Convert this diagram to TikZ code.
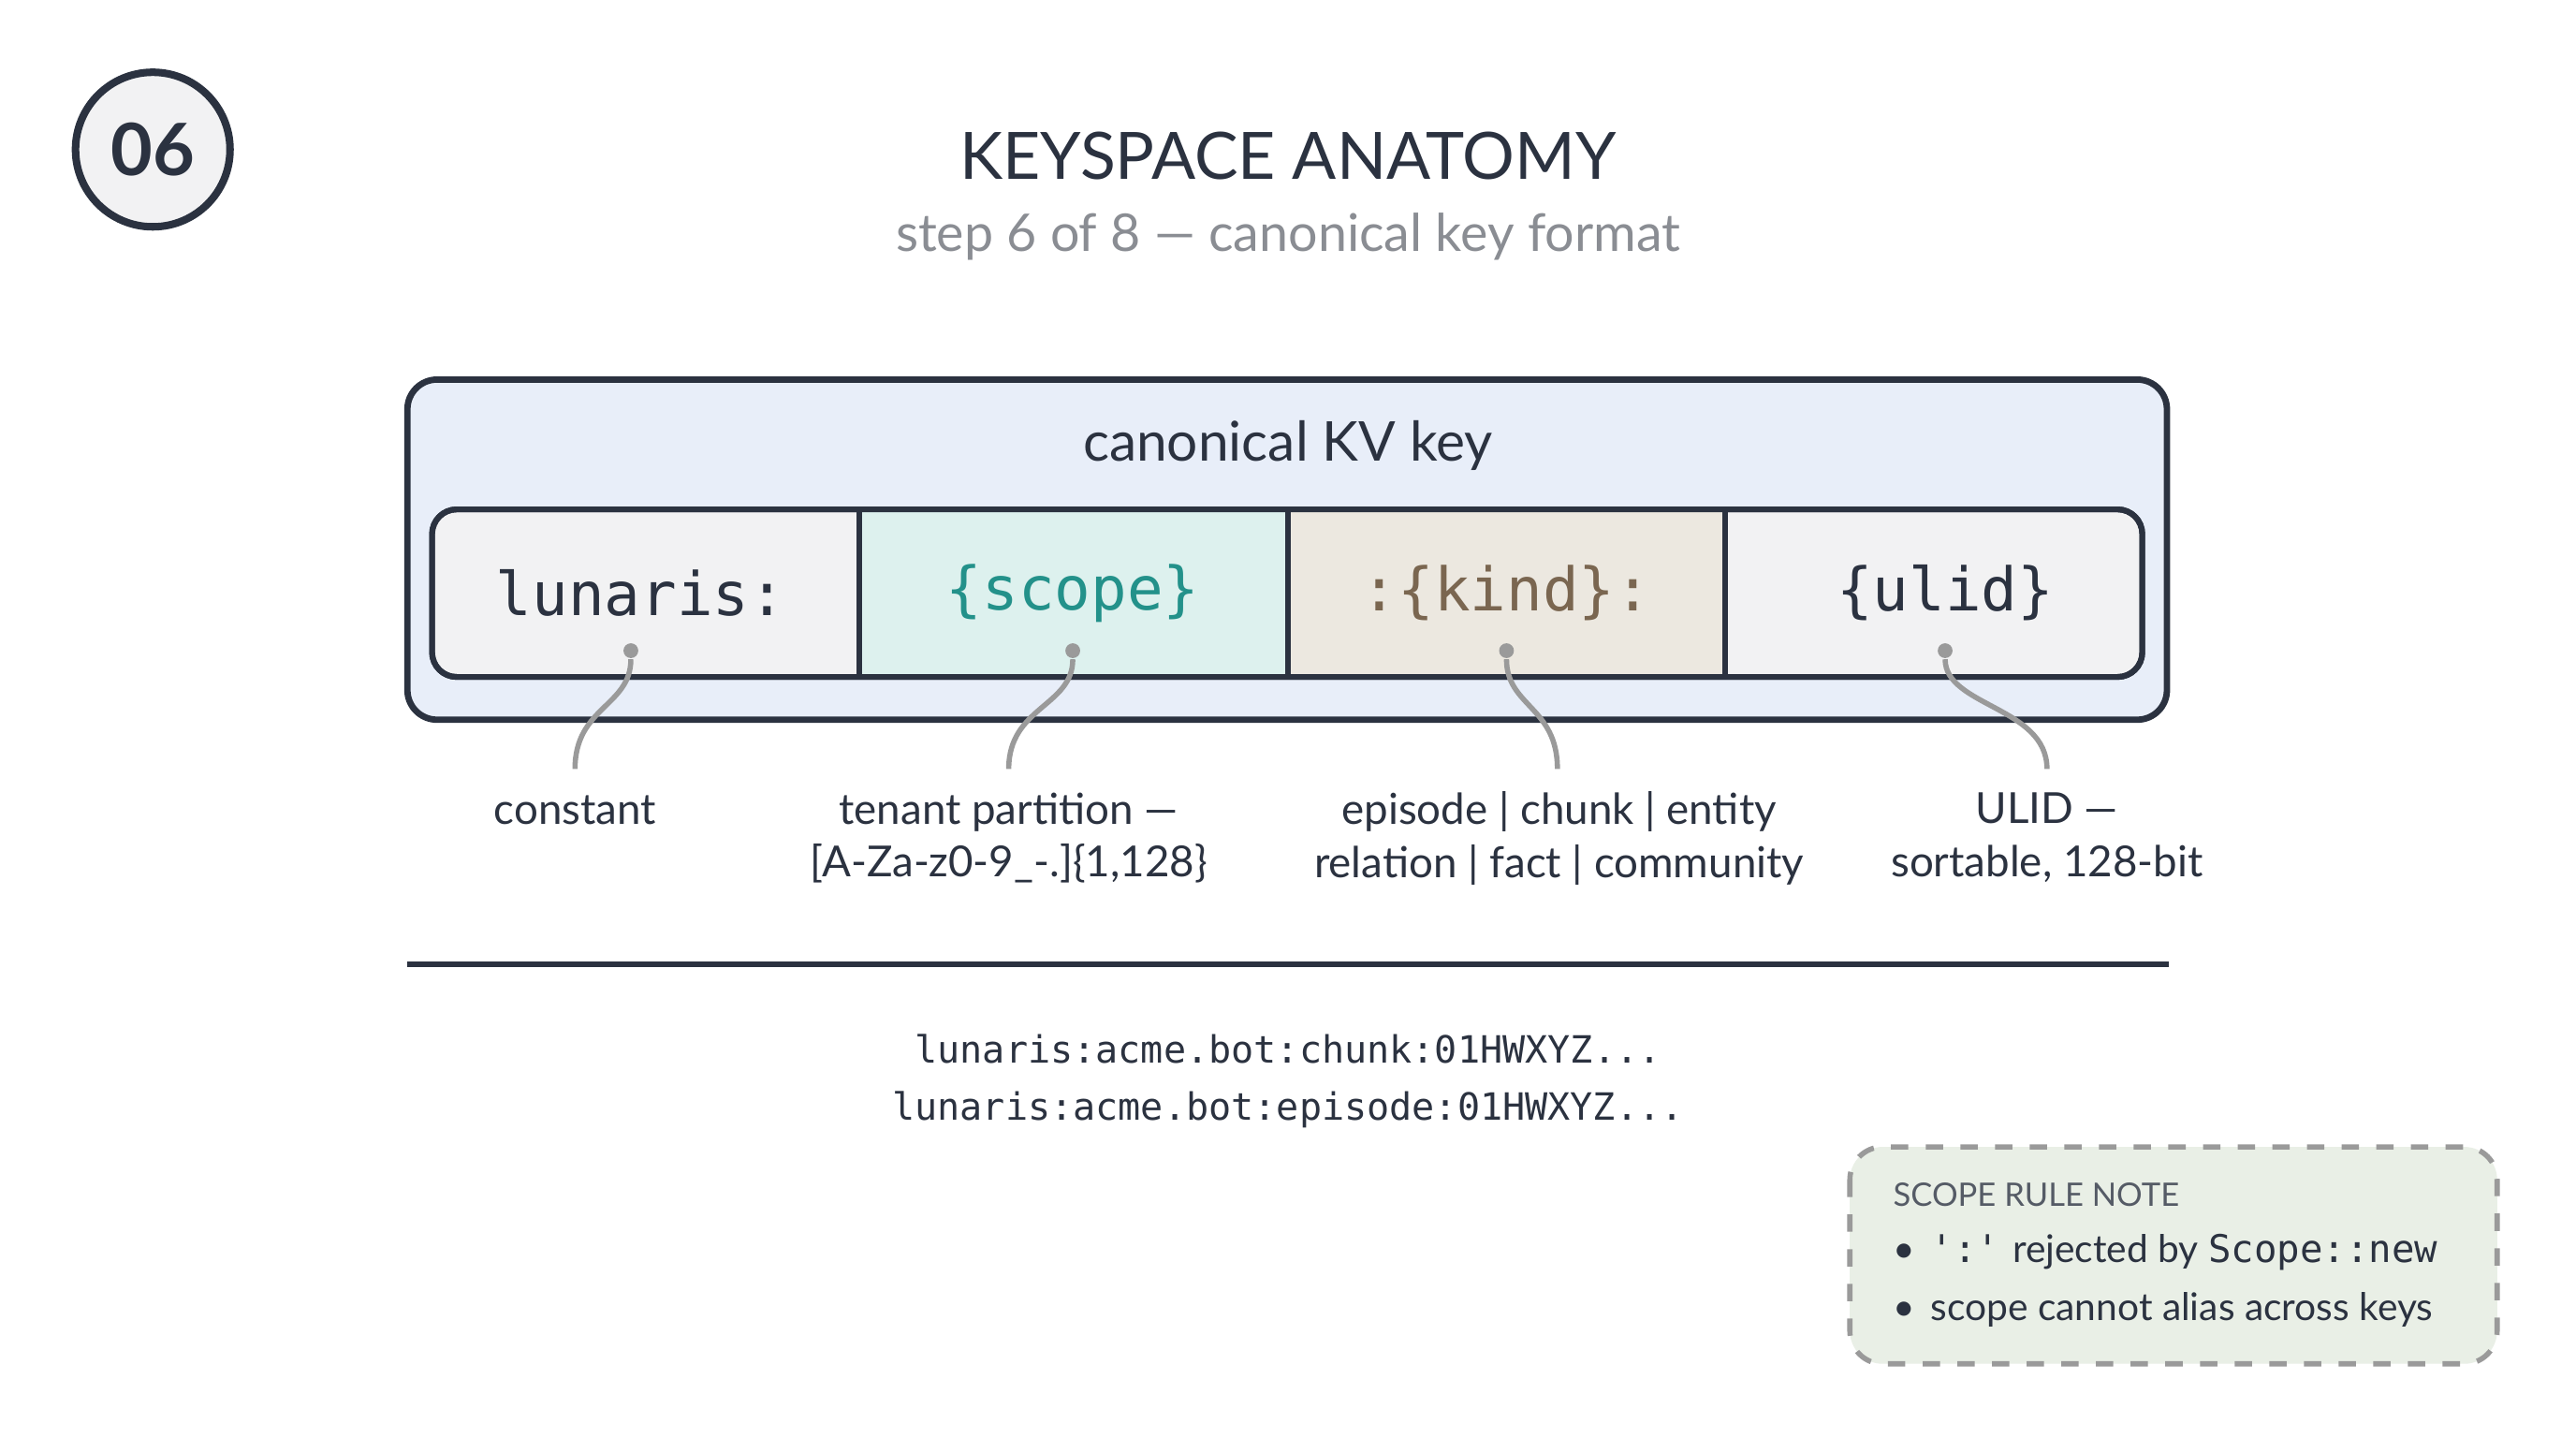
\documentclass[tikz,border=0pt]{standalone}
\usepackage{fontspec}
\setmainfont{Lato}
\setmonofont{DejaVu Sans Mono}
\usetikzlibrary{positioning,calc}
\definecolor{ink}{HTML}{2B3240}
\definecolor{subgray}{HTML}{8A8D93}
\definecolor{keyblue}{HTML}{E8EEF9}
\definecolor{seggray}{HTML}{F2F2F3}
\definecolor{segteal}{HTML}{DDF1EE}
\definecolor{segtan}{HTML}{ECE8E0}
\definecolor{tealtxt}{HTML}{23918A}
\definecolor{browntxt}{HTML}{7A6650}
\definecolor{notegreen}{HTML}{E9EFE6}
\definecolor{pin}{HTML}{9A9A9A}
\tikzset{
  seg/.style={draw=ink, line width=1pt, minimum height=1.02cm, inner sep=0pt},
  segtxt/.style={font=\ttfamily\fontsize{10.4}{12}\selectfont},
  lbl/.style={font=\fontsize{7.4}{9.2}\selectfont, text=ink, align=center},
  lead/.style={draw=pin, line width=0.9pt},
  dot/.style={circle, fill=pin, inner sep=0pt, minimum size=0.09cm},
  notetxt/.style={anchor=west, font=\fontsize{6.6}{8}\selectfont, text=ink}
}
\begin{document}
\begin{tikzpicture}[x=0.01cm,y=-0.01cm]
  \useasboundingbox[fill=white] (0,0) rectangle (1568,875);
  % step badge
  \node[circle, draw=ink, line width=1.3pt, fill=seggray, minimum size=0.94cm,
        font=\bfseries\fontsize{12.5}{14}\selectfont, text=ink] (badge) at (93,91) {06};
  % title
  \node[font=\fontsize{11.3}{13}\selectfont, text=ink] (title) at (784,95) {KEYSPACE ANATOMY};
  \node[font=\fontsize{9}{10}\selectfont, text=subgray] (sub) at (784,144) {step 6 of 8 — canonical key format};
  % key container
  \draw[draw=ink, line width=1.1pt, fill=keyblue, rounded corners=0.18cm] (248,231) rectangle (1319,438);
  \node[font=\fontsize{9.5}{11}\selectfont, text=ink] (keytitle) at (784,271) {canonical KV key};
  \draw[draw=ink, line width=1pt, fill=seggray, rounded corners=0.15cm] (263,310) rectangle (1304,412);
  \fill[segteal] (523,310) rectangle (784,412);
  \fill[segtan] (784,310) rectangle (1050,412);
  \draw[draw=ink, line width=1pt, rounded corners=0.15cm] (263,310) rectangle (1304,412);
  \foreach \xx in {523,784,1050} \draw[ink, line width=1pt] (\xx,310) -- (\xx,412);
  \node[segtxt, text=ink] (constseg) at (390,361) {lunaris:};
  \node[segtxt, text=tealtxt] (scopeseg) at (653,361) {\{scope\}};
  \node[segtxt, text=browntxt] (kindseg) at (917,361) {:\{kind\}:};
  \node[segtxt, text=ink] (ulidseg) at (1184,361) {\{ulid\}};
  % pins and labels
  \node[dot] (p1) at (384,396) {};
  \node[dot] (p2) at (653,396) {};
  \node[dot] (p3) at (917,396) {};
  \node[dot] (p4) at (1184,396) {};
  \coordinate (e1) at (350,468);
  \coordinate (e2) at (614,468);
  \coordinate (e3) at (948,468);
  \coordinate (e4) at (1246,468);
  \draw[lead] (p1) .. controls (384,430) and (350,430) .. (e1);
  \draw[lead] (p2) .. controls (653,430) and (614,430) .. (e2);
  \draw[lead] (p3) .. controls (917,430) and (948,430) .. (e3);
  \draw[lead] (p4) .. controls (1184,430) and (1246,430) .. (e4);
  \node[lbl] (l1) at (350,493) {constant};
  \node[lbl] (l2) at (614,510) {tenant partition —\\{}[A-Za-z0-9\_-.]\{1,128\}};
  \node[lbl] (l3) at (949,510) {episode | chunk | entity\\relation | fact | community};
  \node[lbl] (l4) at (1246,510) {ULID —\\sortable, 128-bit};
  % divider and examples
  \draw[ink, line width=1pt] (248,587) -- (1320,587);
  \node[font=\ttfamily\fontsize{6.5}{10}\selectfont, text=ink, align=center] (ex) at (784,658)
    {lunaris:acme.bot:chunk:01HWXYZ...\\lunaris:acme.bot:episode:01HWXYZ...};
  % note
  \draw[draw=pin, dashed, line width=0.9pt, fill=notegreen, rounded corners=0.2cm] (1126,698) rectangle (1520,830);
  \node[anchor=west, font=\fontsize{5.6}{7}\selectfont, text=ink!80] (nt) at (1140,727) {SCOPE RULE NOTE};
  \node[notetxt] (n1) at (1140,762) {•\hspace{0.4em}\texttt{':'} rejected by \texttt{Scope::new}};
  \node[notetxt] (n2) at (1140,797) {•\hspace{0.4em}scope cannot alias across keys};
\end{tikzpicture}
\end{document}
